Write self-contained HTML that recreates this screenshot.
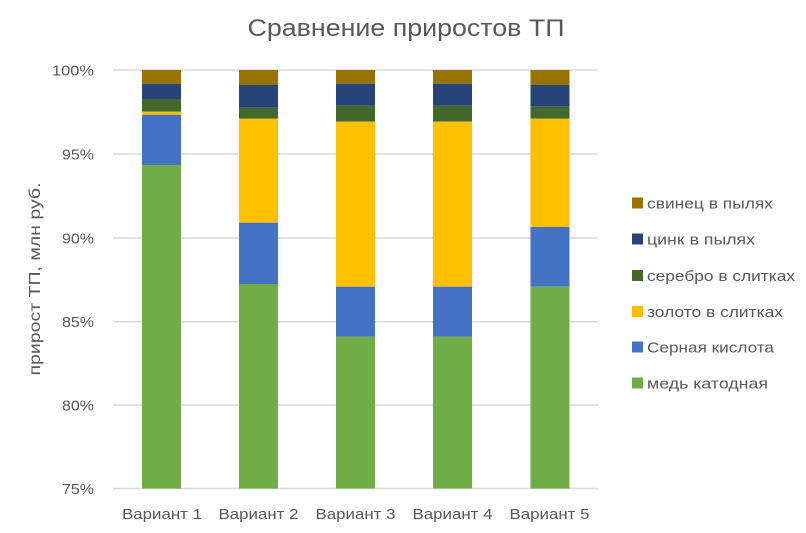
<!DOCTYPE html>
<html>
<head>
<meta charset="utf-8">
<style>
html,body{margin:0;padding:0;background:#fff;}
svg{display:block;}
text{font-family:"Liberation Sans","DejaVu Sans",sans-serif;fill:#595959;}
</style>
</head>
<body>
<svg width="806" height="533" viewBox="0 0 806 533" xmlns="http://www.w3.org/2000/svg">
<rect width="806" height="533" fill="#fff"/>
<text x="406" y="36" font-size="24" text-anchor="middle" textLength="317" lengthAdjust="spacingAndGlyphs">Сравнение приростов ТП</text>

<g stroke="#D9D9D9" stroke-width="1.5">
<line x1="113" y1="70" x2="598" y2="70"/>
<line x1="113" y1="154" x2="598" y2="154"/>
<line x1="113" y1="238" x2="598" y2="238"/>
<line x1="113" y1="321.7" x2="598" y2="321.7"/>
<line x1="113" y1="405" x2="598" y2="405"/>
<line x1="113" y1="488.5" x2="598" y2="488.5"/>
</g>

<g font-size="15" text-anchor="end">
<text x="94" y="75.5" textLength="42" lengthAdjust="spacingAndGlyphs">100%</text>
<text x="94" y="159.5" textLength="32" lengthAdjust="spacingAndGlyphs">95%</text>
<text x="94" y="243.5" textLength="32" lengthAdjust="spacingAndGlyphs">90%</text>
<text x="94" y="327" textLength="32" lengthAdjust="spacingAndGlyphs">85%</text>
<text x="94" y="410.5" textLength="32" lengthAdjust="spacingAndGlyphs">80%</text>
<text x="94" y="494" textLength="32" lengthAdjust="spacingAndGlyphs">75%</text>
</g>

<text transform="translate(40,279) rotate(-90)" font-size="16" text-anchor="middle" textLength="193" lengthAdjust="spacingAndGlyphs">прирост ТП, млн руб.</text>

<!-- Bar 1 -->
<g>
<rect x="142" y="70" width="39" height="13.7" fill="#997300"/>
<rect x="142" y="83.7" width="39" height="15.3" fill="#264478"/>
<rect x="142" y="99" width="39" height="12.7" fill="#43682B"/>
<rect x="142" y="111.7" width="39" height="3" fill="#FFC000"/>
<rect x="142" y="114.7" width="39" height="50.3" fill="#4472C4"/>
<rect x="142" y="165" width="39" height="323.5" fill="#70AD47"/>
</g>
<!-- Bar 2 -->
<g>
<rect x="239" y="70" width="39" height="15" fill="#997300"/>
<rect x="239" y="85" width="39" height="22.7" fill="#264478"/>
<rect x="239" y="107.7" width="39" height="11" fill="#43682B"/>
<rect x="239" y="118.7" width="39" height="104" fill="#FFC000"/>
<rect x="239" y="222.7" width="39" height="61.3" fill="#4472C4"/>
<rect x="239" y="284" width="39" height="204.5" fill="#70AD47"/>
</g>
<!-- Bar 3 -->
<g>
<rect x="336" y="70" width="39" height="13.7" fill="#997300"/>
<rect x="336" y="83.7" width="39" height="22" fill="#264478"/>
<rect x="336" y="105.7" width="39" height="16" fill="#43682B"/>
<rect x="336" y="121.7" width="39" height="165" fill="#FFC000"/>
<rect x="336" y="286.7" width="39" height="50" fill="#4472C4"/>
<rect x="336" y="336.7" width="39" height="151.8" fill="#70AD47"/>
</g>
<!-- Bar 4 -->
<g>
<rect x="433" y="70" width="39" height="13.7" fill="#997300"/>
<rect x="433" y="83.7" width="39" height="22" fill="#264478"/>
<rect x="433" y="105.7" width="39" height="16" fill="#43682B"/>
<rect x="433" y="121.7" width="39" height="165" fill="#FFC000"/>
<rect x="433" y="286.7" width="39" height="50" fill="#4472C4"/>
<rect x="433" y="336.7" width="39" height="151.8" fill="#70AD47"/>
</g>
<!-- Bar 5 -->
<g>
<rect x="530.5" y="70" width="39" height="15" fill="#997300"/>
<rect x="530.5" y="85" width="39" height="21.7" fill="#264478"/>
<rect x="530.5" y="106.7" width="39" height="12" fill="#43682B"/>
<rect x="530.5" y="118.7" width="39" height="108.3" fill="#FFC000"/>
<rect x="530.5" y="227" width="39" height="59.7" fill="#4472C4"/>
<rect x="530.5" y="286.7" width="39" height="201.8" fill="#70AD47"/>
</g>

<g font-size="15" text-anchor="middle">
<text x="162" y="519" textLength="80" lengthAdjust="spacingAndGlyphs">Вариант 1</text>
<text x="258.5" y="519" textLength="80" lengthAdjust="spacingAndGlyphs">Вариант 2</text>
<text x="355.5" y="519" textLength="80" lengthAdjust="spacingAndGlyphs">Вариант 3</text>
<text x="452.5" y="519" textLength="80" lengthAdjust="spacingAndGlyphs">Вариант 4</text>
<text x="549.5" y="519" textLength="80" lengthAdjust="spacingAndGlyphs">Вариант 5</text>
</g>

<!-- Legend -->
<g font-size="15">
<rect x="632" y="197.5" width="11" height="11" fill="#997300"/>
<text x="647" y="208.5" textLength="126" lengthAdjust="spacingAndGlyphs">свинец в пылях</text>
<rect x="632" y="233.5" width="11" height="11" fill="#264478"/>
<text x="647" y="244.5" textLength="108" lengthAdjust="spacingAndGlyphs">цинк в пылях</text>
<rect x="632" y="270" width="11" height="11" fill="#43682B"/>
<text x="647" y="281" textLength="148" lengthAdjust="spacingAndGlyphs">серебро в слитках</text>
<rect x="632" y="306" width="11" height="11" fill="#FFC000"/>
<text x="647" y="317" textLength="136" lengthAdjust="spacingAndGlyphs">золото в слитках</text>
<rect x="632" y="341.5" width="11" height="11" fill="#4472C4"/>
<text x="647" y="352.5" textLength="127" lengthAdjust="spacingAndGlyphs">Серная кислота</text>
<rect x="632" y="377.5" width="11" height="11" fill="#70AD47"/>
<text x="647" y="388.5" textLength="121" lengthAdjust="spacingAndGlyphs">медь катодная</text>
</g>
</svg>
</body>
</html>
